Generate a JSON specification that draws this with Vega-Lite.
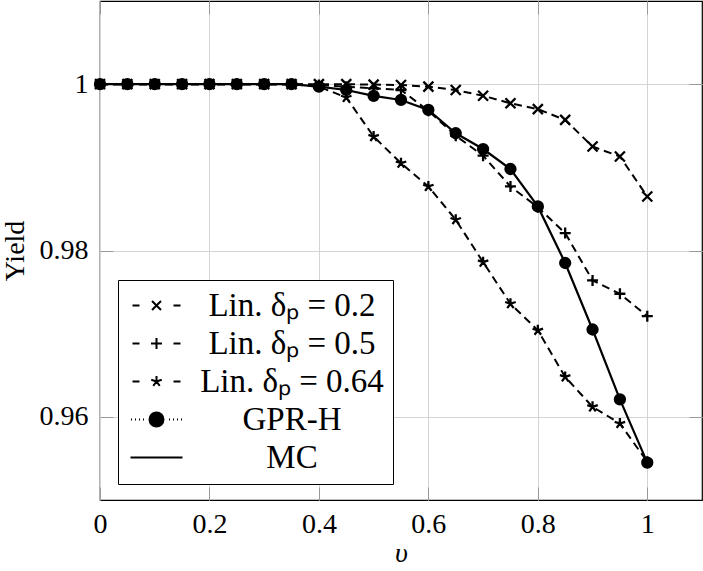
{
  "$schema": "https://vega.github.io/schema/vega-lite/v6.json",
  "width": 602,
  "height": 499,
  "autosize": {"type": "none"},
  "padding": {"left": 100, "top": 1, "right": 1, "bottom": 71},
  "config": {
    "view": {"stroke": "black", "strokeWidth": 1.2},
    "font": "Liberation Serif",
    "axis": {
      "labelFont": "Liberation Serif", "labelFontSize": 28, "labelColor": "black", "labelFlush": false,
      "titleFont": "Liberation Serif", "titleFontSize": 28, "titleFontWeight": "normal", "titleColor": "black",
      "gridColor": "#d4d4d4", "gridWidth": 1, "gridOpacity": 1,
      "tickColor": "#999999", "tickSize": -13, "tickWidth": 1, "domain": false
    },
    "legend": {
      "labelFont": "Liberation Serif", "labelFontSize": 33, "labelColor": "black",
      "labelAlign": "center", "labelOffset": 119, "symbolOffset": 13, "labelLimit": 0,
      "padding": 9, "rowPadding": 4, "strokeColor": "black", "fillColor": "white",
      "cornerRadius": 0, "symbolSize": 100
    }
  },
  "data": {
    "values": [
      {"s": "Lin. δₚ = 0.2", "v": 0, "y": 1}, {"s": "Lin. δₚ = 0.2", "v": 0.05, "y": 1}, {"s": "Lin. δₚ = 0.2", "v": 0.1, "y": 1}, {"s": "Lin. δₚ = 0.2", "v": 0.15, "y": 1}, {"s": "Lin. δₚ = 0.2", "v": 0.2, "y": 1}, {"s": "Lin. δₚ = 0.2", "v": 0.25, "y": 1}, {"s": "Lin. δₚ = 0.2", "v": 0.3, "y": 1}, {"s": "Lin. δₚ = 0.2", "v": 0.35, "y": 1}, {"s": "Lin. δₚ = 0.2", "v": 0.4, "y": 1}, {"s": "Lin. δₚ = 0.2", "v": 0.45, "y": 1}, {"s": "Lin. δₚ = 0.2", "v": 0.5, "y": 0.99995}, {"s": "Lin. δₚ = 0.2", "v": 0.55, "y": 0.9999}, {"s": "Lin. δₚ = 0.2", "v": 0.6, "y": 0.9997}, {"s": "Lin. δₚ = 0.2", "v": 0.65, "y": 0.9993}, {"s": "Lin. δₚ = 0.2", "v": 0.7, "y": 0.9986}, {"s": "Lin. δₚ = 0.2", "v": 0.75, "y": 0.9977}, {"s": "Lin. δₚ = 0.2", "v": 0.8, "y": 0.997}, {"s": "Lin. δₚ = 0.2", "v": 0.85, "y": 0.9957}, {"s": "Lin. δₚ = 0.2", "v": 0.9, "y": 0.9925}, {"s": "Lin. δₚ = 0.2", "v": 0.95, "y": 0.9913}, {"s": "Lin. δₚ = 0.2", "v": 1, "y": 0.9865},
      {"s": "Lin. δₚ = 0.5", "v": 0, "y": 1}, {"s": "Lin. δₚ = 0.5", "v": 0.05, "y": 1}, {"s": "Lin. δₚ = 0.5", "v": 0.1, "y": 1}, {"s": "Lin. δₚ = 0.5", "v": 0.15, "y": 1}, {"s": "Lin. δₚ = 0.5", "v": 0.2, "y": 1}, {"s": "Lin. δₚ = 0.5", "v": 0.25, "y": 1}, {"s": "Lin. δₚ = 0.5", "v": 0.3, "y": 1}, {"s": "Lin. δₚ = 0.5", "v": 0.35, "y": 1}, {"s": "Lin. δₚ = 0.5", "v": 0.4, "y": 0.9999}, {"s": "Lin. δₚ = 0.5", "v": 0.45, "y": 0.9997}, {"s": "Lin. δₚ = 0.5", "v": 0.5, "y": 0.9995}, {"s": "Lin. δₚ = 0.5", "v": 0.55, "y": 0.9993}, {"s": "Lin. δₚ = 0.5", "v": 0.6, "y": 0.9968}, {"s": "Lin. δₚ = 0.5", "v": 0.65, "y": 0.9938}, {"s": "Lin. δₚ = 0.5", "v": 0.7, "y": 0.9914}, {"s": "Lin. δₚ = 0.5", "v": 0.75, "y": 0.9877}, {"s": "Lin. δₚ = 0.5", "v": 0.8, "y": 0.9852}, {"s": "Lin. δₚ = 0.5", "v": 0.85, "y": 0.9821}, {"s": "Lin. δₚ = 0.5", "v": 0.9, "y": 0.9764}, {"s": "Lin. δₚ = 0.5", "v": 0.95, "y": 0.9748}, {"s": "Lin. δₚ = 0.5", "v": 1, "y": 0.9721},
      {"s": "Lin. δₚ = 0.64", "v": 0, "y": 1}, {"s": "Lin. δₚ = 0.64", "v": 0.05, "y": 1}, {"s": "Lin. δₚ = 0.64", "v": 0.1, "y": 1}, {"s": "Lin. δₚ = 0.64", "v": 0.15, "y": 1}, {"s": "Lin. δₚ = 0.64", "v": 0.2, "y": 1}, {"s": "Lin. δₚ = 0.64", "v": 0.25, "y": 1}, {"s": "Lin. δₚ = 0.64", "v": 0.3, "y": 1}, {"s": "Lin. δₚ = 0.64", "v": 0.35, "y": 1}, {"s": "Lin. δₚ = 0.64", "v": 0.4, "y": 0.9997}, {"s": "Lin. δₚ = 0.64", "v": 0.45, "y": 0.9984}, {"s": "Lin. δₚ = 0.64", "v": 0.5, "y": 0.9937}, {"s": "Lin. δₚ = 0.64", "v": 0.55, "y": 0.9905}, {"s": "Lin. δₚ = 0.64", "v": 0.6, "y": 0.9877}, {"s": "Lin. δₚ = 0.64", "v": 0.65, "y": 0.9837}, {"s": "Lin. δₚ = 0.64", "v": 0.7, "y": 0.9786}, {"s": "Lin. δₚ = 0.64", "v": 0.75, "y": 0.9736}, {"s": "Lin. δₚ = 0.64", "v": 0.8, "y": 0.9704}, {"s": "Lin. δₚ = 0.64", "v": 0.85, "y": 0.9648}, {"s": "Lin. δₚ = 0.64", "v": 0.9, "y": 0.9612}, {"s": "Lin. δₚ = 0.64", "v": 0.95, "y": 0.9592}, {"s": "Lin. δₚ = 0.64", "v": 1, "y": 0.9546},
      {"s": "GPR-H", "v": 0, "y": 1}, {"s": "GPR-H", "v": 0.05, "y": 1}, {"s": "GPR-H", "v": 0.1, "y": 1}, {"s": "GPR-H", "v": 0.15, "y": 1}, {"s": "GPR-H", "v": 0.2, "y": 1}, {"s": "GPR-H", "v": 0.25, "y": 1}, {"s": "GPR-H", "v": 0.3, "y": 1}, {"s": "GPR-H", "v": 0.35, "y": 1}, {"s": "GPR-H", "v": 0.4, "y": 0.9997}, {"s": "GPR-H", "v": 0.45, "y": 0.9993}, {"s": "GPR-H", "v": 0.5, "y": 0.9986}, {"s": "GPR-H", "v": 0.55, "y": 0.9981}, {"s": "GPR-H", "v": 0.6, "y": 0.9969}, {"s": "GPR-H", "v": 0.65, "y": 0.9941}, {"s": "GPR-H", "v": 0.7, "y": 0.9922}, {"s": "GPR-H", "v": 0.75, "y": 0.9898}, {"s": "GPR-H", "v": 0.8, "y": 0.9853}, {"s": "GPR-H", "v": 0.85, "y": 0.9785}, {"s": "GPR-H", "v": 0.9, "y": 0.9705}, {"s": "GPR-H", "v": 0.95, "y": 0.9621}, {"s": "GPR-H", "v": 1, "y": 0.9545},
      {"s": "MC", "v": 0, "y": 1}, {"s": "MC", "v": 0.05, "y": 1}, {"s": "MC", "v": 0.1, "y": 1}, {"s": "MC", "v": 0.15, "y": 1}, {"s": "MC", "v": 0.2, "y": 1}, {"s": "MC", "v": 0.25, "y": 1}, {"s": "MC", "v": 0.3, "y": 1}, {"s": "MC", "v": 0.35, "y": 1}, {"s": "MC", "v": 0.4, "y": 0.9997}, {"s": "MC", "v": 0.45, "y": 0.9993}, {"s": "MC", "v": 0.5, "y": 0.9986}, {"s": "MC", "v": 0.55, "y": 0.9981}, {"s": "MC", "v": 0.6, "y": 0.9969}, {"s": "MC", "v": 0.65, "y": 0.9941}, {"s": "MC", "v": 0.7, "y": 0.9922}, {"s": "MC", "v": 0.75, "y": 0.9898}, {"s": "MC", "v": 0.8, "y": 0.9853}, {"s": "MC", "v": 0.85, "y": 0.9785}, {"s": "MC", "v": 0.9, "y": 0.9705}, {"s": "MC", "v": 0.95, "y": 0.9621}, {"s": "MC", "v": 1, "y": 0.9545}
    ]
  },
  "layer": [
    {
      "transform": [{"filter": "indexof(datum.s, 'Lin') === 0"}],
      "mark": {"type": "line", "color": "black", "strokeWidth": 2, "strokeDash": [8, 5]},
      "encoding": {
        "x": {"field": "v", "type": "quantitative", "scale": {"domain": [0, 1.1], "nice": false, "zero": false},
              "axis": {"values": [0, 0.2, 0.4, 0.6, 0.8, 1], "format": "~g", "title": "υ", "titleFontStyle": "italic", "labelPadding": 23, "titlePadding": 1, "grid": true}},
        "y": {"field": "y", "type": "quantitative", "scale": {"domain": [0.95, 1.01], "nice": false, "zero": false},
              "axis": {"values": [0.96, 0.98, 1], "format": "~g", "title": "Yield", "labelPadding": 25, "titlePadding": 10, "grid": true}},
        "detail": {"field": "s"}
      }
    },
    {
      "transform": [{"filter": "datum.s !== 'MC'"}],
      "mark": {"type": "point", "filled": true, "color": "black", "stroke": "black", "strokeWidth": 2.3, "opacity": 1},
      "encoding": {
        "x": {"field": "v", "type": "quantitative", "axis": null},
        "y": {"field": "y", "type": "quantitative", "axis": null},
        "shape": {
          "field": "s", "type": "nominal",
          "scale": {
            "domain": ["Lin. δₚ = 0.2", "Lin. δₚ = 0.5", "Lin. δₚ = 0.64", "GPR-H"],
            "range": ["M-1,-1L1,1M-1,1L1,-1", "M-1.1,0L1.1,0M0,-1.1L0,1.1", "M0,0L0,-1.1M0,0L1.05,-0.34M0,0L0.65,0.89M0,0L-0.65,0.89M0,0L-1.05,-0.34", "circle"]
          },
          "legend": null
        },
        "size": {
          "field": "s", "type": "nominal",
          "scale": {"domain": ["Lin. δₚ = 0.2", "Lin. δₚ = 0.5", "Lin. δₚ = 0.64", "GPR-H"], "range": [100, 100, 110, 170]},
          "legend": null
        }
      }
    },
    {
      "transform": [{"filter": "datum.s === 'MC'"}],
      "mark": {"type": "line", "color": "black", "strokeWidth": 2.2},
      "encoding": {
        "x": {"field": "v", "type": "quantitative",
              "axis": {"orient": "top", "values": [0, 0.2, 0.4, 0.6, 0.8, 1], "labels": false, "title": null, "grid": false}},
        "y": {"field": "y", "type": "quantitative",
              "axis": {"orient": "right", "values": [0.96, 0.98, 1], "labels": false, "title": null, "grid": false}}
      }
    },
    {
      "transform": [{"filter": "false"}],
      "mark": {"type": "point", "filled": true, "color": "black", "stroke": "black", "strokeWidth": 2, "size": 100, "opacity": 1},
      "encoding": {
        "x": {"field": "v", "type": "quantitative", "axis": null},
        "y": {"field": "y", "type": "quantitative", "axis": null},
        "shape": {
          "field": "s", "type": "nominal",
          "scale": {
            "domain": ["Lin. δₚ = 0.2", "Lin. δₚ = 0.5", "Lin. δₚ = 0.64", "GPR-H", "MC"],
            "range": [
              "M-4.8,0L-3.4,0M3.4,0L4.8,0M-0.9,-0.9L0.9,0.9M-0.9,0.9L0.9,-0.9",
              "M-4.8,0L-3.4,0M3.4,0L4.8,0M-1.1,0L1.1,0M0,-1.1L0,1.1",
              "M-4.8,0L-3.4,0M3.4,0L4.8,0M0,0L0,-1.1M0,0L1.05,-0.34M0,0L0.65,0.89M0,0L-0.65,0.89M0,0L-1.05,-0.34",
              "M-5.1,0L-4.9,0M-4.3,0L-4.1,0M-3.5,0L-3.3,0M-2.7,0L-2.5,0M2.5,0L2.7,0M3.3,0L3.5,0M4.1,0L4.3,0M4.9,0L5.1,0M-1.4,0A1.4,1.4 0 1,1 1.4,0A1.4,1.4 0 1,1 -1.4,0Z",
              "M-5.2,0L5.2,0"
            ]
          },
          "legend": {"title": null, "orient": "none", "legendX": 18, "legendY": 279, "symbolStrokeWidth": 2, "symbolOpacity": 1}
        }
      }
    }
  ],
  "resolve": {"axis": {"x": "independent", "y": "independent"}, "scale": {"shape": "independent"}}
}
